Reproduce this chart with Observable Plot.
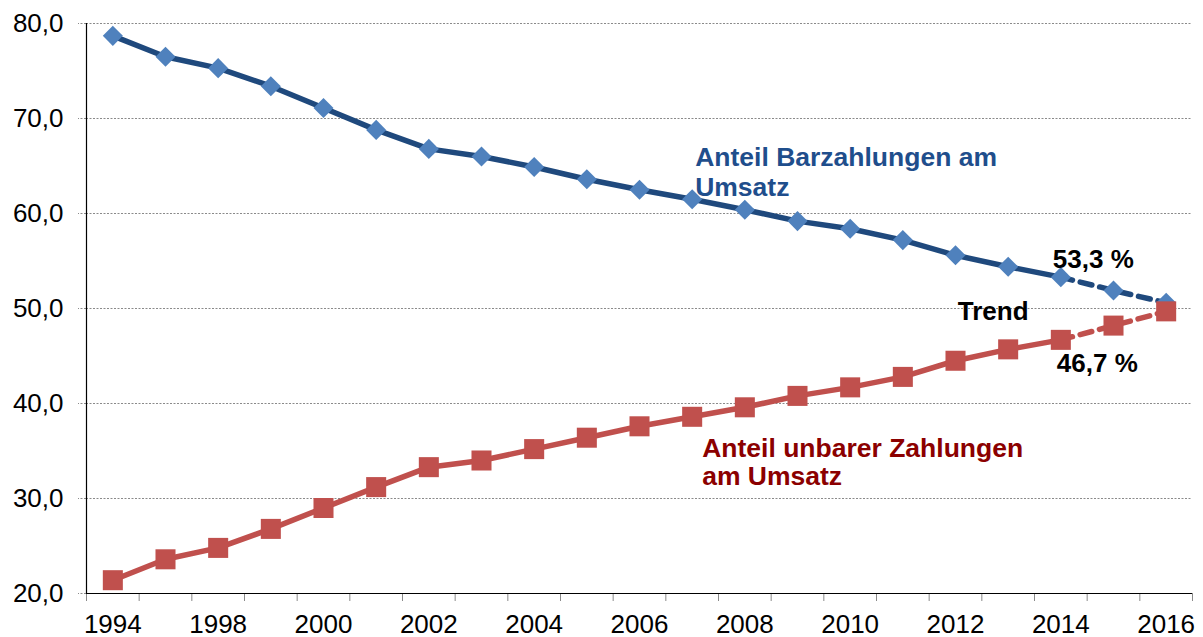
<!DOCTYPE html>
<html><head><meta charset="utf-8">
<script src="https://cdn.jsdelivr.net/npm/d3@7"></script>
<script src="https://cdn.jsdelivr.net/npm/@observablehq/plot@0.6"></script>
<style>body{margin:0;background:#fff}</style></head>
<body><div id="chart"></div>
<script>
// Categories (second category is unlabeled on the original axis)
const years = ["1994","1996","1998","1999","2000","2001","2002","2003","2004","2005","2006","2007","2008","2009","2010","2011","2012","2013","2014","2015","2016"];
// Anteil Barzahlungen am Umsatz (%)
const cash = [78.7,76.5,75.3,73.4,71.1,68.8,66.8,66.0,64.9,63.6,62.5,61.5,60.4,59.2,58.4,57.2,55.6,54.4,53.3,51.9,50.6];
// Anteil unbarer Zahlungen am Umsatz (%)
const cashless = [21.4,23.6,24.8,26.8,29.0,31.2,33.3,34.0,35.2,36.4,37.6,38.6,39.6,40.8,41.7,42.8,44.5,45.7,46.7,48.2,49.7];
const trendFrom = 18; // index of 2014, last observed value
const yTicks = [20,30,40,50,60,70,80];
const seriesNames = ["Anteil Barzahlungen am\nUmsatz", "Anteil unbarer Zahlungen\nam Umsatz"];
const trendLabel = ["Trend"];

const n = years.length;
const rows = years.map((year, i) => ({i, year, cash: cash[i], cashless: cashless[i]}));
const actual = rows.filter(d => d.i <= trendFrom);
const trend = rows.filter(d => d.i >= trendFrom);
const labelIdx = d3.range(0, n, 2);
const bounds = d3.range(0, n + 1).map(k => k - 0.5);
const xDomain = [-0.5, n - 0.5];
const fmt = v => v.toFixed(1).replace(".", ",");

const blueLine = "#1F497D", blueMarker = "#4F81BD", red = "#C0504D";
const blueText = "#1F4E8C", redText = "#8B0000";

const chart = Plot.plot({
  width: 1203, height: 637,
  marginLeft: 86, marginRight: 11, marginTop: 23, marginBottom: 44,
  style: {fontFamily: "'Liberation Sans', Arial, sans-serif", background: "#fff", overflow: "visible", color: "#000"},
  x: {type: "linear", domain: xDomain, axis: null},
  y: {domain: [yTicks[0], yTicks[yTicks.length - 1]], axis: null},
  marks: [
    Plot.gridY(yTicks.slice(1), {stroke: "#8a8a8a", strokeOpacity: 1, strokeDasharray: "2,1.5"}),
    Plot.axisY({ticks: yTicks, tickSize: 8, tickPadding: 15, stroke: "#8a8a8a", strokeDasharray: "2,1.5", fontSize: 26, tickFormat: fmt, label: null}),
    Plot.axisX({ticks: bounds, tickFormat: () => "", tickSize: 8, stroke: "#8a8a8a", label: null}),
    Plot.axisX({ticks: labelIdx, tickFormat: i => years[i], tickSize: 0, tickPadding: 21, fontSize: 26, label: null}),
    Plot.ruleX([xDomain[0]], {stroke: "#000", strokeWidth: 1.2}),
    Plot.ruleY([yTicks[0]], {stroke: "#000", strokeWidth: 1.2}),
    // cash series
    Plot.line(actual, {x: "i", y: "cash", stroke: blueLine, strokeWidth: 5.5}),
    Plot.line(trend, {x: "i", y: "cash", stroke: blueLine, strokeWidth: 5.5, strokeDasharray: "12,8"}),
    Plot.dot(rows, {x: "i", y: "cash", symbol: "square", rotate: 45, r: 8, fill: blueMarker}),
    // cashless series
    Plot.line(actual, {x: "i", y: "cashless", stroke: red, strokeWidth: 5.5}),
    Plot.line(trend, {x: "i", y: "cashless", stroke: red, strokeWidth: 5.5, strokeDasharray: "12,8"}),
    Plot.dot(rows, {x: "i", y: "cashless", symbol: "square", r: 11.3, fill: red}),
    // annotations
    Plot.text([seriesNames[0]], {x: () => 11, y: () => 67.24, dx: 3, text: d => d, textAnchor: "start", lineAnchor: "top", lineHeight: 1.13, fontSize: 26.5, fontWeight: "bold", fill: blueText}),
    Plot.text([seriesNames[1]], {x: () => 11, y: () => 36.5, dx: 10, text: d => d, textAnchor: "start", lineAnchor: "top", lineHeight: 1.06, fontSize: 26.5, fontWeight: "bold", fill: redText}),
    Plot.text([rows[trendFrom]], {x: "i", y: "cash", text: d => fmt(d.cash) + " %", dx: -8, dy: -17, textAnchor: "start", lineAnchor: "middle", fontSize: 26, fontWeight: "bold", fill: "#000"}),
    Plot.text([rows[trendFrom]], {x: "i", y: "cashless", text: d => fmt(d.cashless) + " %", dx: -4, dy: 24, textAnchor: "start", lineAnchor: "middle", fontSize: 26, fontWeight: "bold", fill: "#000"}),
    Plot.text(trendLabel, {x: () => trendFrom - 1, y: () => 50, text: d => d, dx: -15, dy: 3, textAnchor: "middle", lineAnchor: "middle", fontSize: 26, fontWeight: "bold", fill: "#000"})
  ]
});
document.getElementById("chart").appendChild(chart);
</script>
</body></html>
